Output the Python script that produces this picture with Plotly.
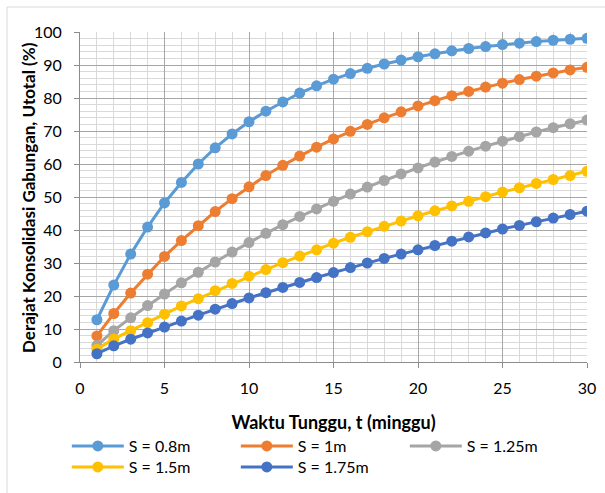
import plotly.graph_objects as go

weeks = list(range(1, 31))
series_names = ["S = 0.8m", "S = 1m", "S = 1.25m", "S = 1.5m", "S = 1.75m"]
u_s080 = [12.8, 23.3, 32.7, 40.9, 48.2, 54.4, 60.0, 64.9, 69.1, 72.8, 76.0, 78.8, 81.5, 83.7, 85.7,
          87.4, 89.0, 90.3, 91.5, 92.5, 93.4, 94.3, 95.0, 95.6, 96.2, 96.6, 97.1, 97.5, 97.8, 98.1]
u_s100 = [7.9, 14.7, 20.9, 26.6, 32.0, 36.8, 41.3, 45.6, 49.5, 53.1, 56.5, 59.6, 62.4, 65.1, 67.6,
          69.9, 72.0, 74.0, 75.8, 77.6, 79.2, 80.7, 82.0, 83.3, 84.5, 85.6, 86.6, 87.6, 88.5, 89.3]
u_s125 = [5.0, 9.5, 13.4, 17.1, 20.6, 24.0, 27.2, 30.3, 33.3, 36.2, 39.0, 41.6, 44.1, 46.4, 48.7,
          50.9, 53.0, 55.0, 57.0, 58.8, 60.6, 62.3, 63.9, 65.4, 66.9, 68.3, 69.7, 71.0, 72.2, 73.3]
u_s150 = [3.9, 7.0, 9.5, 11.9, 14.5, 17.0, 19.2, 21.6, 23.8, 26.0, 28.0, 30.1, 32.1, 34.0, 36.0,
          37.8, 39.5, 41.1, 42.7, 44.3, 45.8, 47.3, 48.7, 50.1, 51.5, 52.8, 54.1, 55.3, 56.5, 57.8]
u_s175 = [2.5, 4.9, 6.9, 8.8, 10.6, 12.4, 14.2, 16.0, 17.7, 19.4, 21.0, 22.6, 24.1, 25.6, 27.1,
          28.6, 30.0, 31.4, 32.7, 34.0, 35.3, 36.6, 37.9, 39.1, 40.3, 41.4, 42.5, 43.6, 44.7, 45.7]
colors = ["#5B9BD5", "#ED7D31", "#A5A5A5", "#FFC000", "#4472C4"]
legend_rows = ["legend", "legend", "legend", "legend2", "legend2"]
all_series = [u_s080, u_s100, u_s125, u_s150, u_s175]
x_title = "Waktu Tunggu, t (minggu)"
y_title = "Derajat Konsolidasi Gabungan, Utotal (%)"

FONT = "Lato"

fig = go.Figure()
for name, vals, col, lg in zip(series_names, all_series, colors, legend_rows):
    fig.add_trace(go.Scatter(
        x=weeks, y=vals, name=name, mode="lines+markers",
        line=dict(color=col, width=3),
        marker=dict(color=col, size=11),
        legend=lg,
    ))

leg_common = dict(
    orientation="h", xanchor="left", yanchor="middle",
    entrywidth=102, itemwidth=52, font=dict(size=16, family=FONT),
    bgcolor="rgba(0,0,0,0)", borderwidth=0,
)

fig.update_layout(
    width=605, height=493,
    margin=dict(l=80, r=18, t=32, b=131, autoexpand=False),
    paper_bgcolor="white", plot_bgcolor="white",
    font=dict(family=FONT, size=16, color="#000000"),
    showlegend=True,
    legend=dict(x=-0.026, y=-0.2545, **leg_common),
    legend2=dict(x=-0.026, y=-0.3182, **leg_common),
    xaxis=dict(
        range=[0, 30], dtick=5, tick0=0, automargin=False,
        showgrid=True, gridcolor="#A6A6A6", gridwidth=1,
        minor=dict(dtick=1, showgrid=True, gridcolor="#D9D9D9", gridwidth=1),
        showline=True, linecolor="#8C8C8C", linewidth=1,
        ticks="outside", ticklen=5, tickcolor="#8C8C8C",
        ticklabelstandoff=7,
        zeroline=False,
        tickfont=dict(size=16, family=FONT),
        title=dict(text="<b>" + x_title + "</b>", standoff=20,
                   font=dict(size=18, family=FONT)),
    ),
    yaxis=dict(
        range=[0, 100], dtick=10, tick0=0, automargin=False,
        showgrid=True, gridcolor="#A6A6A6", gridwidth=1,
        minor=dict(dtick=2, showgrid=True, gridcolor="#D9D9D9", gridwidth=1),
        showline=True, linecolor="#8C8C8C", linewidth=1,
        ticks="outside", ticklen=5, tickcolor="#8C8C8C",
        ticklabelstandoff=9,
        zeroline=False,
        tickfont=dict(size=16, family=FONT),
    ),
    annotations=[dict(
        text="<b>" + y_title + "</b>", textangle=-90,
        xref="paper", yref="paper", x=-0.1026, y=0.5,
        xanchor="center", yanchor="middle", showarrow=False,
        font=dict(size=17, family=FONT, color="#000000"),
    )],
    shapes=[dict(type="rect", xref="paper", yref="paper",
                 x0=-0.144, x1=1.05, y0=-0.43, y1=1.0758,
                 line=dict(color="#D9D9D9", width=1), layer="below")],
)

fig.write_html("out.html")
